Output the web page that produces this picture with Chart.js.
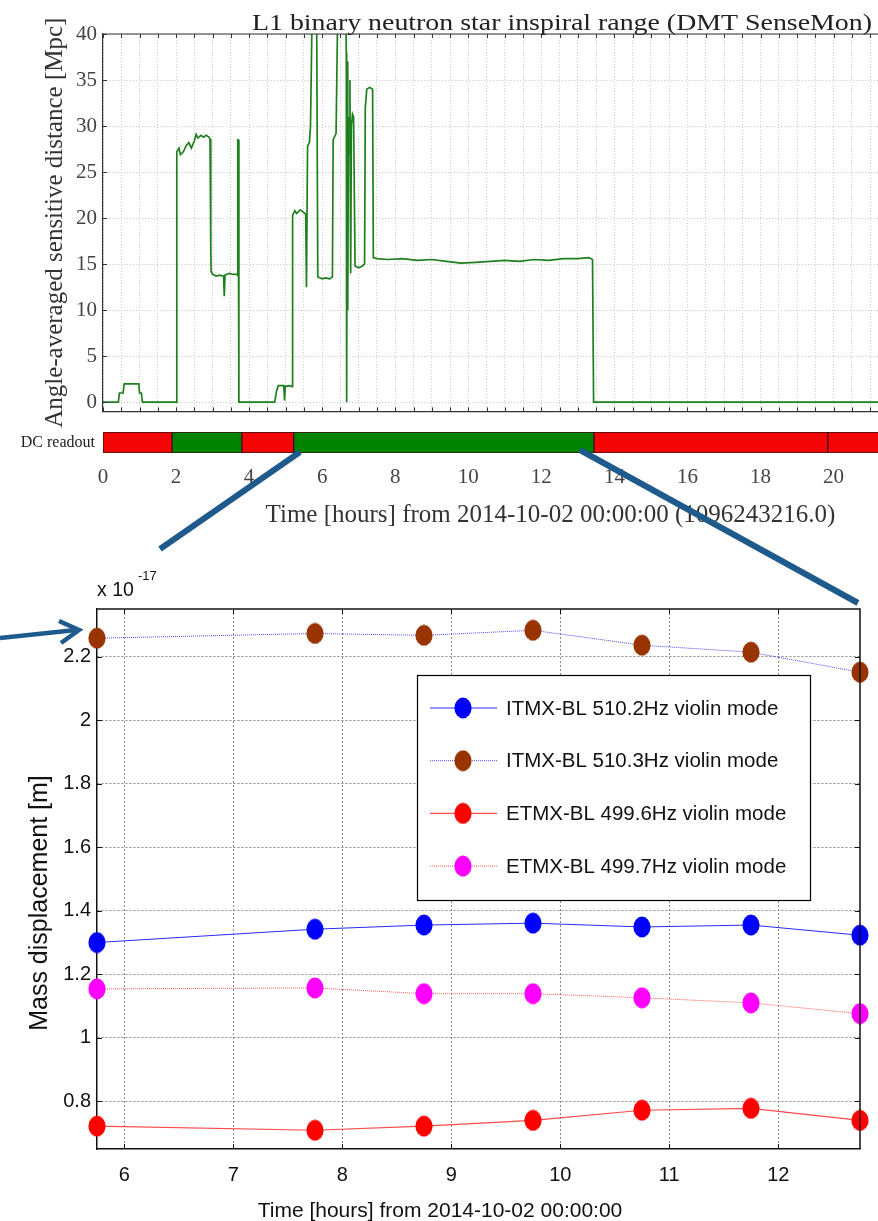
<!DOCTYPE html>
<html><head><meta charset="utf-8">
<script src="https://cdn.jsdelivr.net/npm/chart.js@4.4.1/dist/chart.umd.min.js"></script>
<style>
html,body{margin:0;padding:0;background:#fff;width:878px;height:1221px;overflow:hidden;position:relative}
.c{position:absolute;left:0}
#ann{position:absolute;left:0;top:0;pointer-events:none;z-index:5}
</style></head><body>
<canvas class="c" id="top" width="1100" height="430" style="top:0"></canvas>
<canvas class="c" id="dc" width="1100" height="110" style="top:426px"></canvas>
<canvas class="c" id="bot" width="878" height="681" style="top:540px"></canvas>
<canvas id="ann" width="878" height="1221"></canvas>
<script>
// ---------- top panel: inspiral range ----------
const rangeHours = [0,0.42,0.45,0.55,0.58,0.98,1.0,1.05,1.08,2.0,
  2.02,2.08,2.12,2.2,2.28,2.35,2.42,2.5,2.55,2.6,2.68,2.75,2.82,2.9,2.93,2.95,2.96,3.0,3.1,3.2,3.3,3.32,3.34,3.45,3.55,3.65,3.68,3.69,3.7,3.72,
  4.7,4.75,4.8,4.95,4.97,4.99,5.1,5.18,5.19,5.25,5.3,5.4,5.5,5.55,5.57,5.6,5.65,5.68,5.72,5.85,5.88,6.0,6.1,6.2,6.28,6.3,6.38,6.42,6.65,6.66,6.67,6.69,6.7,6.72,6.74,6.76,6.78,6.8,6.83,6.86,6.9,7.0,7.1,7.16,7.18,7.22,7.3,7.38,7.4,
  7.5,7.8,8.2,8.6,9.0,9.4,9.8,10.2,10.6,11.0,11.4,11.8,12.2,12.6,13.0,13.3,13.4,13.43,24.5];
const rangeMpc = [0,0,1,1,2,2,1,1,0,0,
  27.2,27.6,26.9,27.2,27.9,28.2,27.6,28.4,29.1,28.7,29.0,28.8,29.0,28.8,28.6,17,14.2,13.9,13.7,13.8,13.7,11.5,13.8,14.0,13.9,13.9,13.8,28.5,28.5,0,
  0,1.2,1.8,1.8,0.2,1.7,1.8,1.7,20.3,20.8,20.5,20.9,20.6,20.4,12.5,27.8,28.2,30,41,41,13.6,13.4,13.5,13.4,13.6,28.5,29.2,41,41,38,0,37,10,31,27,35,14,30,31.3,31,14.8,14.6,14.8,15,32,34,34.2,34.0,15.7,
  15.6,15.5,15.6,15.4,15.5,15.3,15.1,15.2,15.3,15.4,15.3,15.5,15.4,15.6,15.6,15.7,15.5,0,0];
const topYTicks = [0,5,10,15,20,25,30,35,40];
const topXGridStep = 0.5;
const dcTicks = [0,2,4,6,8,10,12,14,16,18,20,22,24];
// DC readout state segments (edges in hours, 1 = DC readout on)
const dcEdges = [0,1.89,3.8,5.22,13.44,19.84,24.5];
const dcOn = [0,1,0,1,0,0];

// ---------- bottom panel: violin modes ----------
const hours = [5.75,7.75,8.75,9.75,10.75,11.75,12.75];
const itmx5102 = [1.300,1.342,1.355,1.361,1.349,1.355,1.323];
const itmx5103 = [2.258,2.273,2.267,2.283,2.236,2.214,2.151];
const etmx4996 = [0.722,0.709,0.722,0.740,0.772,0.778,0.740];
const etmx4997 = [1.154,1.157,1.139,1.139,1.126,1.110,1.076];
const seriesNames = ['ITMX-BL 510.2Hz violin mode','ITMX-BL 510.3Hz violin mode','ETMX-BL 499.6Hz violin mode','ETMX-BL 499.7Hz violin mode'];
const botXTicks = [6,7,8,9,10,11,12];
const botYTicks = [0.8,1,1.2,1.4,1.6,1.8,2,2.2];

const topTitle = 'L1 binary neutron star inspiral range (DMT SenseMon)';
const botXTitle = 'Time [hours] from 2014-10-02 00:00:00';
const botYTitle = 'Mass displacement [m]';

const SERIF = 'Liberation Serif';
const SANS = 'Liberation Sans';

function boxPlugin(id, opts){
  return {id, afterDraw(chart){
    const {ctx, chartArea:a} = chart;
    ctx.save();
    ctx.strokeStyle = opts.color; ctx.lineWidth = opts.width;
    ctx.beginPath();
    ctx.moveTo(a.left, a.top); ctx.lineTo(a.right, a.top);
    if (opts.right){ ctx.lineTo(a.right, a.bottom); }
    ctx.stroke();
    const L = opts.tick;
    ctx.lineWidth = 1;
    chart.scales.x.ticks.forEach(t=>{
      const x = Math.round(chart.scales.x.getPixelForValue(t.value))+0.5;
      ctx.beginPath(); ctx.moveTo(x,a.bottom); ctx.lineTo(x,a.bottom-L);
      ctx.moveTo(x,a.top); ctx.lineTo(x,a.top+L); ctx.stroke();
    });
    chart.scales.y.ticks.forEach(t=>{
      const y = Math.round(chart.scales.y.getPixelForValue(t.value))+0.5;
      ctx.beginPath(); ctx.moveTo(a.left,y); ctx.lineTo(a.left+L,y);
      if (opts.right){ ctx.moveTo(a.right,y); ctx.lineTo(a.right-L,y); }
      ctx.stroke();
    });
    ctx.restore();
  }};
}

const topTitlePlugin = {id:'topTitle', afterDraw(chart){
  const ctx = chart.ctx;
  ctx.save();
  ctx.font = '24px '+SERIF; ctx.fillStyle = '#222'; ctx.textBaseline = 'alphabetic'; ctx.textAlign='left';
  const w = ctx.measureText(topTitle).width;
  ctx.translate(252, 30); ctx.scale(620/w, 1);
  ctx.fillText(topTitle, 0, 0);
  ctx.restore();
}};

// top chart
new Chart(document.getElementById('top'), {
  type:'line',
  data:{datasets:[{data: rangeHours.map((h,i)=>({x:h,y:rangeMpc[i]})), borderColor:'#1f7f1f', borderWidth:1.7, pointRadius:0, tension:0}]},
  options:{
    responsive:false, animation:false,
    layout:{padding:{left:0,right:102,top:34,bottom:6}},
    plugins:{legend:{display:false}, tooltip:{enabled:false}, title:{display:false}},
    scales:{
      x:{type:'linear', min:0, max:24.5,
        afterBuildTicks:s=>{const t=[];for(let v=0;v<=24.5;v+=topXGridStep)t.push({value:v});s.ticks=t;},
        ticks:{display:false}, grid:{color:'#cfcfcf', drawTicks:false, lineWidth:1},
        border:{display:true,color:'#333',width:1.2,dash:[1,2]},
        afterFit:s=>{s.height=0;}},
      y:{min:-1, max:40,
        afterBuildTicks:s=>{s.ticks=topYTicks.map(v=>({value:v}));},
        ticks:{font:{family:SERIF,size:21}, color:'#444', padding:6},
        grid:{color:'#c4c4c4', drawTicks:false, lineWidth:1},
        border:{display:true,color:'#333',width:1.2,dash:[1,2]},
        title:{display:true, text:'Angle-averaged sensitive distance [Mpc]', color:'#333',
          font:{family:SERIF,size:25}, padding:{top:40,bottom:0}},
        afterFit:s=>{s.width=103;}}
    }
  },
  plugins:[boxPlugin('topbox',{color:'#333',width:1.2,tick:4,right:false}), topTitlePlugin]
});

// DC readout bar
const GREEN='rgb(0,132,0)', RED='rgb(244,4,4)';
new Chart(document.getElementById('dc'), {
  type:'bar',
  data:{labels:['DC readout'],
    datasets: dcOn.map((s,i)=>({data:[[dcEdges[i],dcEdges[i+1]]], backgroundColor: s?GREEN:RED,
      borderColor:'#3a1010', borderWidth:1, borderSkipped:false, grouped:false, barPercentage:1, categoryPercentage:1}))},
  options:{
    indexAxis:'y', responsive:false, animation:false,
    layout:{padding:{left:0,right:102,top:6,bottom:0}},
    plugins:{legend:{display:false}, tooltip:{enabled:false}},
    scales:{
      x:{type:'linear', min:0, max:24.5,
        afterBuildTicks:s=>{s.ticks=dcTicks.map(v=>({value:v}));},
        grid:{display:false, drawTicks:false}, border:{display:false},
        ticks:{font:{family:SERIF,size:21}, color:'#444', padding:12},
        title:{display:true, text:'Time [hours] from 2014-10-02 00:00:00 (1096243216.0)', color:'#333',
          font:{family:SERIF,size:25}, padding:{top:0,bottom:6}},
        afterFit:s=>{s.height=83;}},
      y:{grid:{display:false, drawTicks:false}, border:{display:false},
        ticks:{font:{family:SERIF,size:16}, color:'#222', padding:8},
        afterFit:s=>{s.width=103; s.paddingTop=0; s.paddingBottom=0;}}
    }
  }
});

// bottom chart
function ellipse(color){
  const c=document.createElement('canvas'); c.width=18; c.height=22;
  const g=c.getContext('2d'); g.fillStyle=color; g.beginPath();
  g.ellipse(9,11,8.6,10.4,0,0,Math.PI*2); g.fill(); return c;
}
const mk = {blue:ellipse('#0000ff'), brown:ellipse('#993300'), red:ellipse('#ff0000'), mag:ellipse('#ff00ff')};
function pts(arr){return hours.map((h,i)=>({x:h,y:arr[i]}));}
const botDatasets = [
  {label:seriesNames[0], data:pts(itmx5102), borderColor:'#2a2aff', borderWidth:1, pointStyle:mk.blue, pointRadius:10, borderDash:[]},
  {label:seriesNames[1], data:pts(itmx5103), borderColor:'#4a4aff', borderWidth:1, pointStyle:mk.brown, pointRadius:10, borderDash:[1,1]},
  {label:seriesNames[2], data:pts(etmx4996), borderColor:'#ff4a4a', borderWidth:1.2, pointStyle:mk.red, pointRadius:10, borderDash:[]},
  {label:seriesNames[3], data:pts(etmx4997), borderColor:'#ff5a5a', borderWidth:1, pointStyle:mk.mag, pointRadius:10, borderDash:[1,1]}
].map(d=>Object.assign(d,{tension:0, clip:false, backgroundColor:'transparent'}));

const OFF = 540;
const legendPlugin = {id:'ownLegend', afterDraw(chart){
  const ctx=chart.ctx;
  const bx=417, by=675-OFF, bw=393, bh=225;
  ctx.save();
  ctx.fillStyle='#fff'; ctx.fillRect(bx,by,bw,bh);
  ctx.strokeStyle='#000'; ctx.lineWidth=1.2; ctx.strokeRect(bx+0.5,by+0.5,bw,bh);
  chart.data.datasets.forEach((d,i)=>{
    const y = by + 33 + i*52.7;
    ctx.strokeStyle=d.borderColor; ctx.lineWidth=d.borderWidth; ctx.setLineDash(d.borderDash);
    ctx.beginPath(); ctx.moveTo(430,y); ctx.lineTo(497,y); ctx.stroke(); ctx.setLineDash([]);
    ctx.drawImage(d.pointStyle, 463-9, y-11);
    ctx.fillStyle='#111'; ctx.font='20.5px '+SANS; ctx.textBaseline='middle'; ctx.textAlign='left';
    ctx.fillText(d.label, 506, y+1);
  });
  const a=chart.chartArea;
  ctx.fillStyle='#111'; ctx.textBaseline='alphabetic'; ctx.textAlign='left';
  ctx.font='19.5px '+SANS; ctx.fillText('x 10', a.left, 596-OFF);
  ctx.font='13px '+SANS; ctx.fillText('-17', a.left+41, 580-OFF);
  // axis titles
  ctx.font='21px '+SANS; ctx.textAlign='center';
  ctx.fillText(botXTitle, 440, 1217-OFF);
  ctx.save();
  ctx.translate(47, 903-OFF); ctx.rotate(-Math.PI/2);
  ctx.font='25px '+SANS; ctx.textAlign='center'; ctx.textBaseline='alphabetic';
  ctx.fillText(botYTitle, 0, 0);
  ctx.restore();
  ctx.restore();
}};

new Chart(document.getElementById('bot'), {
  type:'line',
  data:{datasets:botDatasets},
  options:{
    responsive:false, animation:false,
    layout:{padding:{left:0,right:18,top:69,bottom:0}},
    plugins:{legend:{display:false}, tooltip:{enabled:false}},
    scales:{
      x:{type:'linear', min:5.75, max:12.75,
        afterBuildTicks:s=>{s.ticks=botXTicks.map(v=>({value:v}));},
        ticks:{font:{family:SANS,size:20}, color:'#111', padding:14},
        grid:{color:'#8a8a8a', drawTicks:false, lineWidth:1},
        border:{display:true,color:'#111',width:1.5,dash:[2,2]},
        afterFit:s=>{s.height=72;}},
      y:{min:0.65, max:2.35,
        afterBuildTicks:s=>{s.ticks=botYTicks.map(v=>({value:v}));},
        ticks:{font:{family:SANS,size:20}, color:'#111', padding:6, callback:v=>String(+v.toFixed(1))},
        grid:{color:'#8a8a8a', drawTicks:false, lineWidth:1},
        border:{display:true,color:'#111',width:1.5,dash:[2,2]},
        afterFit:s=>{s.width=97;}}
    }
  },
  plugins:[boxPlugin('botbox',{color:'#111',width:1.5,tick:5,right:true}), legendPlugin]
});

// annotation arrows (overlay)
(function(){
  const c=document.getElementById('ann').getContext('2d');
  c.strokeStyle='#1f5a8c'; c.lineWidth=6; c.lineCap='butt';
  c.beginPath(); c.moveTo(300,452); c.lineTo(160,549); c.stroke();
  c.beginPath(); c.moveTo(580,450); c.lineTo(858,603); c.stroke();
  c.lineWidth=4.5; c.lineJoin='miter';
  c.beginPath(); c.moveTo(0,638); c.lineTo(76,630); c.stroke();
  c.beginPath(); c.moveTo(59,621); c.lineTo(79,630); c.lineTo(61,643); c.stroke();
})();
</script>
</body></html>
